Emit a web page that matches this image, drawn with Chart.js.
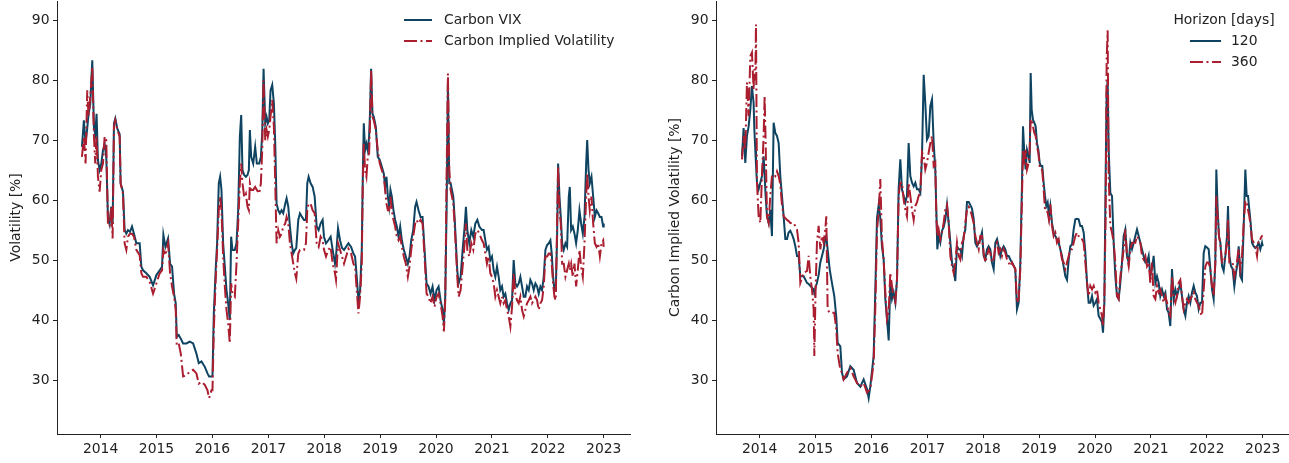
<!DOCTYPE html>
<html>
<head>
<meta charset="utf-8">
<script src="https://cdn.jsdelivr.net/npm/chart.js@4.4.0/dist/chart.umd.min.js"></script>
<style>
    body { margin: 0; background: #fff; }
    #wrap { position: relative; width: 1289px; height: 463px; }
    .panel { position: absolute; top: 0; }
</style>
</head>
<body>
<div id="wrap">
    <div class="panel" style="left:0"><canvas id="leftChart" width="640" height="463"></canvas></div>
    <div class="panel" style="left:648px"><canvas id="rightChart" width="641" height="463"></canvas></div>
</div>
<script>
const yearTicks = [2014, 2015, 2016, 2017, 2018, 2019, 2020, 2021, 2022, 2023];
const volTicks = [30, 40, 50, 60, 70, 80, 90];

// left panel: Carbon VIX vs Carbon Implied Volatility
const leftDates = [
    2013.666, 2013.701, 2013.731, 2013.761, 2013.785, 2013.815, 2013.851, 2013.881, 2013.904, 2013.928, 2013.952, 2013.982,
    2014.012, 2014.042, 2014.072, 2014.102, 2014.131, 2014.161, 2014.191, 2014.215, 2014.239, 2014.263, 2014.299, 2014.341, 2014.358, 2014.400, 2014.430, 2014.460, 2014.490, 2014.526, 2014.562, 2014.597, 2014.639, 2014.699, 2014.729, 2014.759, 2014.818, 2014.878, 2014.938, 2014.998,
    2015.057, 2015.099, 2015.123, 2015.159, 2015.207, 2015.243, 2015.278, 2015.314, 2015.344, 2015.362, 2015.398, 2015.434, 2015.476, 2015.535, 2015.595, 2015.655, 2015.714, 2015.756, 2015.804, 2015.864, 2015.912, 2015.941, 2015.983,
    2016.001, 2016.025, 2016.061, 2016.084, 2016.114, 2016.138, 2016.162, 2016.192, 2016.222, 2016.252, 2016.282, 2016.311, 2016.335, 2016.359, 2016.401, 2016.431, 2016.461, 2016.491, 2016.515, 2016.538, 2016.568, 2016.598, 2016.628, 2016.652, 2016.670, 2016.694, 2016.730, 2016.765, 2016.795, 2016.837, 2016.867, 2016.891, 2016.915, 2016.945, 2016.969, 2016.992,
    2017.016, 2017.040, 2017.070, 2017.100, 2017.124, 2017.148, 2017.178, 2017.207, 2017.237, 2017.267, 2017.303, 2017.327, 2017.357, 2017.387, 2017.417, 2017.446, 2017.476, 2017.500, 2017.536, 2017.566, 2017.602, 2017.638, 2017.673, 2017.697, 2017.721, 2017.757, 2017.793, 2017.829, 2017.865, 2017.900, 2017.936, 2017.972, 2017.996,
    2018.032, 2018.074, 2018.115, 2018.151, 2018.193, 2018.211, 2018.247, 2018.283, 2018.319, 2018.354, 2018.433, 2018.481, 2018.522, 2018.552, 2018.582, 2018.612, 2018.642, 2018.672, 2018.690, 2018.708, 2018.731, 2018.755, 2018.779, 2018.803, 2018.821, 2018.839, 2018.863, 2018.887, 2018.923, 2018.958, 2018.994,
    2019.030, 2019.066, 2019.090, 2019.114, 2019.138, 2019.162, 2019.185, 2019.209, 2019.239, 2019.269, 2019.299, 2019.329, 2019.359, 2019.389, 2019.424, 2019.460, 2019.496, 2019.526, 2019.556, 2019.592, 2019.627, 2019.651, 2019.687, 2019.723, 2019.759, 2019.795, 2019.831, 2019.866, 2019.902, 2019.938, 2019.974,
    2020.010, 2020.046, 2020.081, 2020.117, 2020.141, 2020.165, 2020.189, 2020.213, 2020.237, 2020.261, 2020.285, 2020.309, 2020.332, 2020.356, 2020.380, 2020.404, 2020.440, 2020.476, 2020.512, 2020.535, 2020.560, 2020.595, 2020.631, 2020.667, 2020.703, 2020.739, 2020.775, 2020.822, 2020.852, 2020.882, 2020.911, 2020.941, 2020.971,
    2021.001, 2021.031, 2021.061, 2021.091, 2021.121, 2021.150, 2021.180, 2021.210, 2021.240, 2021.270, 2021.300, 2021.330, 2021.360, 2021.389, 2021.419, 2021.449, 2021.479, 2021.509, 2021.539, 2021.569, 2021.598, 2021.628, 2021.658, 2021.688, 2021.718, 2021.748, 2021.778, 2021.808, 2021.837, 2021.867, 2021.897, 2021.927, 2021.957, 2021.987,
    2022.017, 2022.046, 2022.070, 2022.094, 2022.118, 2022.142, 2022.166, 2022.184, 2022.208, 2022.232, 2022.256, 2022.285, 2022.315, 2022.345, 2022.375, 2022.393, 2022.417, 2022.447, 2022.477, 2022.506, 2022.536, 2022.566, 2022.596, 2022.626, 2022.656, 2022.686, 2022.704, 2022.728, 2022.751, 2022.781, 2022.811, 2022.841, 2022.871, 2022.901, 2022.931, 2022.960, 2022.990, 2023.000
];
const carbonVix = [
    68.9, 73.3, 69.4, 72.0, 74.4, 76.0, 83.3, 72.0, 71.0, 74.4, 66.7, 65.0,
    66.0, 68.3, 69.4, 67.0, 57.2, 56.0, 58.9, 56.0, 72.8, 73.6, 71.9, 71.0, 62.8, 61.4, 55.0, 54.4, 55.0, 54.7, 55.6, 54.4, 52.8, 52.8, 48.9, 48.3, 47.8, 47.2, 45.8, 47.5,
    48.3, 48.9, 54.2, 52.2, 53.6, 49.4, 48.9, 44.4, 42.8, 37.2, 37.5, 36.9, 36.1, 36.1, 36.4, 36.1, 34.4, 32.8, 33.1, 32.2, 31.1, 30.6, 30.6,
    30.6, 41.1, 48.9, 52.8, 62.8, 63.9, 61.7, 52.8, 48.9, 45.0, 42.8, 40.0, 53.9, 51.7, 51.7, 52.8, 58.3, 70.6, 74.2, 65.0, 64.2, 63.9, 64.2, 65.0, 71.7, 67.2, 66.1, 68.9, 66.1, 66.1, 67.2, 71.1, 81.9, 72.8, 73.9, 72.8,
    73.3, 78.3, 79.2, 76.1, 69.4, 59.4, 58.3, 57.8, 58.3, 57.8, 59.4, 60.3, 58.9, 55.6, 52.8, 51.1, 51.7, 52.0, 56.7, 57.8, 57.2, 56.7, 56.7, 62.8, 63.9, 62.8, 62.2, 60.6, 55.6, 55.0, 56.1, 56.7, 53.9,
    52.8, 53.3, 53.9, 51.7, 49.4, 50.6, 55.3, 53.3, 52.0, 51.7, 52.8, 52.2, 51.1, 50.6, 47.2, 43.3, 45.0, 51.7, 63.9, 72.8, 68.3, 69.4, 68.3, 70.6, 75.0, 81.9, 74.4, 73.9, 72.2, 67.2, 66.7,
    65.6, 64.4, 62.2, 63.9, 60.6, 58.9, 61.7, 60.6, 58.3, 56.7, 55.6, 53.9, 55.6, 53.3, 51.7, 50.6, 49.4, 50.6, 53.3, 55.0, 58.9, 59.7, 58.3, 57.2, 57.2, 51.7, 46.1, 45.6, 44.4, 45.6, 43.3,
    45.0, 45.6, 43.3, 41.7, 39.4, 43.9, 58.3, 79.5, 62.8, 62.8, 61.7, 60.6, 57.2, 52.8, 48.3, 46.1, 47.2, 51.7, 55.6, 58.9, 55.0, 52.8, 55.0, 53.9, 56.1, 56.7, 55.6, 55.0, 55.0, 53.3, 51.7, 52.2, 50.0,
    50.6, 48.3, 47.2, 48.9, 47.2, 45.0, 45.6, 43.9, 44.4, 42.8, 41.7, 42.8, 43.3, 50.0, 46.1, 45.6, 46.1, 47.2, 45.6, 43.9, 43.9, 45.6, 45.0, 46.7, 46.1, 45.0, 46.1, 45.6, 44.4, 45.6, 45.0, 47.2, 51.7, 52.5,
    52.8, 53.3, 51.1, 47.2, 45.0, 45.0, 53.9, 66.1, 60.6, 57.2, 52.8, 51.7, 52.8, 52.2, 60.6, 62.2, 55.0, 55.6, 54.4, 52.8, 55.0, 58.3, 56.1, 54.4, 57.2, 66.1, 70.0, 65.0, 62.8, 63.9, 60.6, 57.2, 58.3, 57.8, 57.2, 57.2, 55.6, 56.1
];
const carbonIV = [
    67.2, 70.6, 66.1, 78.3, 73.9, 77.2, 82.2, 70.6, 66.1, 70.6, 64.0, 61.4,
    65.0, 66.1, 70.6, 70.0, 56.0, 55.6, 58.9, 53.6, 72.2, 73.3, 71.7, 70.6, 62.8, 61.1, 52.8, 51.7, 53.9, 54.4, 54.4, 53.9, 51.7, 50.8, 47.8, 47.2, 47.2, 46.4, 44.4, 46.1,
    47.8, 48.3, 51.7, 50.8, 52.8, 47.8, 45.6, 43.9, 41.7, 35.8, 36.1, 34.4, 30.6, 30.8, 31.4, 31.7, 31.1, 29.4, 29.7, 29.2, 28.3, 27.0, 28.3,
    28.3, 38.3, 47.2, 51.7, 58.3, 60.6, 58.3, 50.6, 45.6, 41.7, 39.4, 36.1, 46.1, 44.4, 43.9, 49.4, 56.1, 62.8, 66.1, 62.8, 60.6, 61.1, 58.9, 58.3, 62.8, 61.7, 61.7, 62.2, 61.7, 61.1, 62.8, 68.3, 80.0, 70.0, 71.7, 70.6,
    71.7, 73.9, 76.7, 72.2, 62.8, 52.8, 55.0, 53.9, 54.4, 55.6, 56.1, 57.2, 56.1, 52.8, 51.1, 49.4, 47.8, 46.9, 51.1, 51.7, 51.7, 51.7, 52.8, 58.3, 59.4, 59.4, 58.3, 57.8, 52.8, 52.2, 53.9, 53.3, 51.7,
    50.6, 51.7, 52.2, 49.4, 47.8, 46.7, 52.8, 51.7, 50.6, 49.4, 51.9, 51.1, 49.4, 48.9, 45.0, 41.1, 43.9, 49.4, 62.8, 69.4, 65.0, 63.9, 67.2, 67.8, 73.3, 81.7, 73.9, 73.3, 71.7, 68.3, 66.1,
    65.0, 63.9, 61.7, 59.4, 58.3, 58.3, 60.6, 58.3, 56.7, 55.6, 53.9, 53.3, 53.9, 52.2, 50.6, 49.4, 47.2, 48.9, 51.7, 53.9, 56.1, 56.7, 56.1, 56.7, 56.1, 50.6, 44.4, 43.9, 42.8, 43.9, 42.2,
    43.9, 44.4, 42.8, 40.6, 38.1, 43.3, 63.9, 81.1, 65.0, 61.7, 60.6, 59.4, 56.1, 51.7, 47.2, 43.9, 45.0, 48.9, 52.8, 56.1, 51.7, 50.6, 52.8, 51.7, 54.4, 55.0, 54.4, 53.3, 52.8, 51.1, 49.4, 50.6, 47.8,
    47.2, 46.1, 43.9, 45.0, 43.9, 42.8, 43.9, 42.8, 43.3, 41.7, 40.6, 38.9, 42.2, 47.8, 44.4, 43.3, 42.8, 43.9, 41.7, 40.6, 41.7, 42.8, 43.3, 43.9, 42.8, 43.3, 43.9, 43.3, 41.7, 42.8, 43.3, 45.6, 50.6, 50.6,
    51.1, 51.1, 49.4, 46.1, 43.9, 43.3, 56.1, 65.6, 58.3, 56.1, 49.4, 49.4, 47.2, 48.3, 49.4, 48.3, 49.4, 47.2, 49.4, 45.6, 48.3, 51.7, 48.9, 47.2, 52.8, 60.6, 64.4, 60.6, 58.3, 60.6, 56.1, 52.8, 52.2, 52.8, 50.6, 52.8, 53.3, 52.2
];

// right panel: implied volatility by horizon
const rightDates = [
    2013.685, 2013.714, 2013.744, 2013.774, 2013.804, 2013.834, 2013.863, 2013.893, 2013.905, 2013.923, 2013.935, 2013.953, 2013.983,
    2014.013, 2014.042, 2014.072, 2014.090, 2014.108, 2014.132, 2014.162, 2014.191, 2014.221, 2014.251, 2014.281, 2014.311, 2014.341, 2014.370, 2014.400, 2014.430, 2014.460, 2014.490, 2014.519, 2014.549, 2014.579, 2014.609, 2014.639, 2014.669, 2014.698, 2014.728, 2014.788, 2014.848, 2014.877, 2014.907, 2014.937, 2014.967, 2014.979,
    2015.003, 2015.026, 2015.056, 2015.086, 2015.116, 2015.146, 2015.175, 2015.193, 2015.217, 2015.253, 2015.294, 2015.336, 2015.372, 2015.396, 2015.444, 2015.474, 2015.503, 2015.563, 2015.623, 2015.682, 2015.742, 2015.802, 2015.861, 2015.921, 2015.951, 2015.980,
    2016.040, 2016.070, 2016.100, 2016.130, 2016.159, 2016.189, 2016.219, 2016.249, 2016.279, 2016.309, 2016.338, 2016.368, 2016.398, 2016.428, 2016.458, 2016.487, 2016.517, 2016.547, 2016.577, 2016.607, 2016.636, 2016.666, 2016.696, 2016.726, 2016.756, 2016.786, 2016.815, 2016.845, 2016.875, 2016.905, 2016.935, 2016.964, 2016.994,
    2017.024, 2017.054, 2017.084, 2017.114, 2017.143, 2017.161, 2017.179, 2017.203, 2017.233, 2017.263, 2017.292, 2017.322, 2017.352, 2017.382, 2017.412, 2017.442, 2017.471, 2017.501, 2017.531, 2017.561, 2017.590, 2017.620, 2017.650, 2017.680, 2017.710, 2017.740, 2017.769, 2017.799, 2017.829, 2017.859, 2017.889, 2017.919, 2017.948, 2017.978,
    2018.008, 2018.038, 2018.068, 2018.097, 2018.127, 2018.157, 2018.187, 2018.217, 2018.247, 2018.276, 2018.306, 2018.336, 2018.366, 2018.396, 2018.425, 2018.455, 2018.485, 2018.515, 2018.574, 2018.604, 2018.634, 2018.664, 2018.694, 2018.712, 2018.735, 2018.759, 2018.783, 2018.813, 2018.831, 2018.849, 2018.867, 2018.890, 2018.914, 2018.938, 2018.962, 2018.986,
    2019.010, 2019.034, 2019.057, 2019.081, 2019.105, 2019.129, 2019.153, 2019.177, 2019.201, 2019.230, 2019.260, 2019.290, 2019.320, 2019.350, 2019.379, 2019.409, 2019.439, 2019.469, 2019.499, 2019.529, 2019.558, 2019.588, 2019.618, 2019.648, 2019.678, 2019.707, 2019.737, 2019.767, 2019.797, 2019.827, 2019.857, 2019.886, 2019.916, 2019.946, 2019.976,
    2020.006, 2020.035, 2020.065, 2020.095, 2020.125, 2020.143, 2020.167, 2020.190, 2020.208, 2020.226, 2020.244, 2020.274, 2020.304, 2020.334, 2020.363, 2020.393, 2020.423, 2020.453, 2020.483, 2020.512, 2020.542, 2020.572, 2020.602, 2020.632, 2020.662, 2020.692, 2020.721, 2020.751, 2020.781, 2020.811, 2020.840, 2020.870, 2020.900, 2020.930, 2020.960, 2020.989,
    2021.019, 2021.049, 2021.079, 2021.109, 2021.139, 2021.168, 2021.198, 2021.228, 2021.258, 2021.288, 2021.317, 2021.347, 2021.377, 2021.407, 2021.437, 2021.466, 2021.496, 2021.526, 2021.556, 2021.586, 2021.616, 2021.645, 2021.675, 2021.705, 2021.735, 2021.765, 2021.794, 2021.824, 2021.854, 2021.884, 2021.914, 2021.944, 2021.973,
    2022.003, 2022.033, 2022.063, 2022.093, 2022.122, 2022.152, 2022.170, 2022.194, 2022.218, 2022.242, 2022.272, 2022.301, 2022.331, 2022.361, 2022.379, 2022.403, 2022.433, 2022.462, 2022.492, 2022.522, 2022.552, 2022.570, 2022.599, 2022.629, 2022.659, 2022.689, 2022.713, 2022.737, 2022.760, 2022.784, 2022.808, 2022.838, 2022.868, 2022.898, 2022.927, 2022.957, 2022.987, 2023.000
];
const horizon120 = [
    67.3, 72.0, 66.2, 70.7, 72.3, 75.1, 79.0, 76.2, 72.0, 68.4, 66.0, 62.9, 61.8,
    62.9, 64.0, 67.3, 64.0, 60.7, 57.3, 56.2, 58.4, 54.0, 72.9, 71.2, 70.7, 69.5, 64.0, 60.7, 57.3, 53.5, 53.5, 54.6, 54.9, 54.3, 53.5, 52.3, 50.7, 50.7, 47.3, 47.3, 46.2, 46.0, 45.7, 45.4, 45.1, 44.5,
    45.5, 46.2, 47.5, 49.6, 50.7, 51.8, 53.5, 54.0, 51.8, 48.5, 46.2, 44.0, 40.5, 36.2, 35.6, 31.2, 30.1, 30.6, 32.3, 31.7, 29.5, 28.9, 30.1, 28.5, 27.0, 28.9,
    34.0, 45.0, 57.0, 59.2, 57.0, 52.3, 50.1, 43.5, 40.2, 36.6, 46.2, 43.5, 44.6, 42.9, 46.8, 61.8, 66.8, 61.8, 60.7, 59.6, 60.7, 69.5, 64.0, 62.9, 62.3, 62.9, 61.8, 61.8, 61.2, 67.3, 80.9, 76.2, 70.1,
    70.7, 75.7, 76.8, 69.5, 65.1, 58.4, 51.8, 54.0, 52.9, 54.9, 55.5, 56.7, 59.2, 56.2, 52.9, 49.6, 48.5, 46.5, 52.3, 51.8, 51.8, 50.7, 54.0, 55.1, 59.7, 59.7, 59.2, 58.6, 56.9, 52.9, 52.3, 52.9, 53.5, 54.6,
    50.7, 50.1, 51.8, 52.3, 51.8, 49.6, 48.5, 52.9, 53.5, 52.3, 50.7, 51.8, 52.3, 51.8, 50.7, 50.7, 50.1, 49.6, 48.5, 41.8, 42.9, 49.6, 62.9, 72.3, 67.9, 65.1, 68.4, 67.3, 66.2, 81.2, 75.1, 73.4, 72.9, 72.3, 69.5, 68.4,
    66.2, 65.7, 65.7, 62.9, 60.7, 59.0, 59.6, 57.3, 59.0, 56.2, 54.6, 54.0, 53.5, 52.9, 51.8, 50.7, 48.9, 47.3, 46.7, 50.1, 52.3, 52.6, 55.1, 56.8, 56.9, 56.8, 55.7, 55.7, 54.6, 51.2, 46.2, 42.9, 42.9, 44.0, 42.4,
    42.9, 43.5, 40.7, 40.2, 39.6, 37.9, 42.9, 64.0, 77.9, 80.0, 68.4, 61.2, 60.7, 52.9, 47.3, 44.0, 43.5, 46.2, 49.6, 54.0, 55.1, 50.7, 49.6, 52.9, 51.8, 52.9, 54.0, 55.1, 54.0, 52.9, 51.8, 50.7, 49.6, 49.6, 50.7, 47.3,
    48.5, 50.7, 46.2, 47.3, 46.2, 44.0, 45.1, 44.0, 44.6, 41.8, 41.2, 39.0, 48.5, 43.5, 45.1, 44.0, 45.1, 46.2, 44.0, 41.8, 40.7, 42.9, 44.0, 42.9, 44.6, 45.7, 44.6, 44.0, 41.8, 42.9, 42.9, 51.2, 52.3,
    52.1, 51.8, 48.5, 45.1, 43.5, 49.6, 65.1, 58.4, 53.9, 52.9, 49.0, 48.2, 50.7, 54.0, 59.0, 50.7, 49.0, 48.5, 45.6, 47.9, 49.6, 52.3, 47.3, 46.7, 55.4, 65.1, 60.7, 60.7, 58.4, 56.2, 52.9, 52.3, 52.0, 52.3, 52.9, 51.8, 52.9, 52.3
];
const horizon360 = [
    66.8, 70.7, 68.4, 79.6, 74.0, 84.0, 84.6, 78.4, 81.8, 80.0, 89.3, 62.9, 57.3,
    56.2, 64.0, 70.7, 77.4, 69.5, 57.3, 56.2, 60.7, 64.0, 64.3, 64.0, 64.8, 64.0, 62.6, 59.2, 57.3, 57.0, 56.7, 56.5, 56.2, 56.2, 56.2, 55.6, 55.1, 52.9, 46.2, 47.9, 48.2, 50.7, 47.3, 45.1, 41.8, 34.0,
    45.7, 52.9, 55.7, 51.8, 54.0, 52.9, 55.1, 57.3, 41.8, 41.2, 41.2, 41.2, 38.4, 34.5, 31.7, 31.2, 30.1, 31.2, 32.0, 30.6, 29.5, 28.9, 29.5, 27.9, 28.2, 28.5,
    32.8, 42.0, 55.0, 58.0, 63.5, 53.4, 50.1, 44.6, 40.2, 41.5, 47.9, 45.7, 43.5, 42.9, 46.8, 60.7, 62.9, 62.9, 60.1, 58.4, 57.3, 62.9, 60.7, 58.4, 56.7, 59.0, 59.6, 60.7, 61.2, 68.0, 67.3, 65.1, 66.2,
    67.9, 69.5, 70.7, 65.7, 66.2, 57.3, 54.0, 55.1, 53.5, 54.6, 56.2, 58.4, 59.2, 56.2, 50.7, 49.0, 47.9, 49.6, 52.9, 50.7, 50.1, 52.9, 53.5, 56.2, 58.4, 58.9, 58.4, 57.3, 56.2, 54.0, 52.9, 51.8, 54.0, 54.0,
    51.2, 49.6, 50.7, 51.8, 51.2, 49.6, 50.1, 52.3, 52.9, 51.2, 51.8, 50.7, 51.8, 51.2, 50.1, 49.6, 49.0, 49.6, 48.5, 42.9, 43.5, 48.5, 60.7, 68.4, 65.7, 68.4, 65.1, 66.2, 68.4, 73.5, 73.4, 72.3, 71.2, 70.7, 68.9, 67.9,
    65.7, 65.7, 64.8, 61.8, 58.4, 58.4, 57.9, 56.7, 59.3, 55.7, 54.0, 54.6, 52.9, 53.5, 51.8, 50.1, 49.6, 48.5, 49.6, 50.7, 51.8, 51.8, 52.9, 54.0, 54.6, 54.0, 54.0, 53.5, 52.9, 49.6, 46.2, 44.0, 45.7, 45.1, 45.7,
    44.6, 45.1, 42.9, 41.8, 40.7, 39.0, 43.5, 57.3, 83.4, 88.3, 64.0, 55.7, 54.6, 52.9, 49.6, 44.0, 43.5, 47.3, 49.6, 51.8, 55.1, 50.7, 49.0, 51.8, 52.9, 52.9, 52.9, 54.0, 53.5, 52.9, 50.7, 50.1, 50.7, 49.0, 49.6, 46.2,
    49.6, 44.0, 43.5, 45.7, 44.6, 45.1, 44.0, 42.9, 44.0, 42.9, 41.2, 40.7, 47.3, 44.0, 42.9, 44.0, 46.2, 46.7, 44.0, 41.8, 42.9, 43.5, 42.9, 43.5, 44.0, 44.6, 43.5, 42.9, 42.4, 41.2, 40.7, 45.1, 48.9,
    49.6, 49.6, 48.5, 45.7, 44.0, 49.6, 60.7, 57.3, 53.9, 52.9, 49.6, 49.6, 50.7, 52.9, 56.8, 49.6, 49.6, 49.6, 47.3, 48.5, 50.7, 51.8, 48.5, 50.7, 56.0, 59.8, 59.8, 58.4, 57.3, 55.7, 53.5, 52.9, 52.3, 50.7, 53.5, 53.5, 54.0, 54.0
];

const blue = "#0e4461";
const red = "#ab1e30";
const ink = "#222222";
const dashDot = [13, 3.5, 2, 3.5];
const fontFamily = "'DejaVu Sans', sans-serif";

Chart.defaults.font.family = fontFamily;
Chart.defaults.font.size = 13.9;
Chart.defaults.color = ink;

function points(xs, ys) {
    return xs.map((x, i) => ({ x: x, y: ys[i] }));
}

// draws the matplotlib-like legend inside the plot area
const insideLegend = {
    id: "insideLegend",
    afterDraw(chart, args, opts) {
        const ctx = chart.ctx;
        const area = chart.chartArea;
        ctx.save();
        ctx.font = "13.9px " + fontFamily;
        ctx.fillStyle = ink;
        ctx.textBaseline = "middle";
        let y = area.top + opts.top;
        if (opts.title) {
            ctx.textAlign = "center";
            ctx.fillText(opts.title, area.right - opts.titleX, y);
            y += opts.step;
        }
        ctx.textAlign = "left";
        opts.items.forEach(item => {
            ctx.beginPath();
            ctx.strokeStyle = item.color;
            ctx.lineWidth = 2;
            ctx.setLineDash(item.dash);
            ctx.moveTo(area.right - opts.lineFrom, y);
            ctx.lineTo(area.right - opts.lineTo, y);
            ctx.stroke();
            ctx.fillText(item.label, area.right - opts.textX, y);
            y += opts.step;
        });
        ctx.restore();
    }
};

function makeChart(id, dates, first, second, names, yTitle, axisWidth, titlePad, rightPad, legend) {
    return new Chart(id, {
        type: "line",
        data: {
            datasets: [{
                label: names[0],
                data: points(dates, first),
                borderColor: blue,
                borderWidth: 2,
                pointRadius: 0,
                order: 1
            }, {
                label: names[1],
                data: points(dates, second),
                borderColor: red,
                borderWidth: 2,
                borderDash: dashDot,
                pointRadius: 0,
                order: 0
            }]
        },
        options: {
            responsive: false,
            animation: false,
            layout: { padding: { top: 1, right: rightPad, left: 0, bottom: 0 } },
            plugins: {
                legend: { display: false },
                tooltip: { enabled: false },
                insideLegend: legend
            },
            scales: {
                x: {
                    type: "linear",
                    min: 2013.22,
                    max: 2023.47,
                    afterBuildTicks: s => { s.ticks = yearTicks.map(v => ({ value: v })); },
                    afterFit: s => {
                        s.height = 29;
                        s.paddingLeft = 0;
                        s.paddingRight = 0;
                    },
                    ticks: { padding: 3, callback: v => String(v), maxRotation: 0, autoSkip: false },
                    grid: { display: true, drawOnChartArea: false, drawTicks: true, tickLength: 4, tickColor: ink, lineWidth: 1 },
                    border: { display: true, color: ink, width: 1 }
                },
                y: {
                    min: 21.0,
                    max: 93.2,
                    afterBuildTicks: s => { s.ticks = volTicks.map(v => ({ value: v })); },
                    afterFit: s => {
                        s.width = axisWidth;
                        s.paddingTop = 0;
                        s.paddingBottom = 0;
                    },
                    ticks: { padding: 3.5, callback: v => String(v) },
                    grid: { display: true, drawOnChartArea: false, drawTicks: true, tickLength: 4, tickColor: ink, lineWidth: 1 },
                    border: { display: true, color: ink, width: 1 },
                    title: { display: true, text: yTitle, padding: { top: titlePad, bottom: 0 }, font: { size: 13.9 } }
                }
            }
        },
        plugins: [insideLegend]
    });
}

makeChart("leftChart", leftDates, carbonVix, carbonIV,
    ["Carbon VIX", "Carbon Implied Volatility"], "Volatility [%]", 57, 8, 10, {
        top: 19, step: 21, lineFrom: 226, lineTo: 198, textX: 186,
        items: [
            { label: "Carbon VIX", color: blue, dash: [] },
            { label: "Carbon Implied Volatility", color: red, dash: dashDot }
        ]
    });

makeChart("rightChart", rightDates, horizon120, horizon360,
    ["120", "360"], "Carbon Implied Volatility [%]", 68, 19, 0, {
        top: 19, step: 21, title: "Horizon [days]", titleX: 65, lineFrom: 99, lineTo: 68, textX: 58,
        items: [
            { label: "120", color: blue, dash: [] },
            { label: "360", color: red, dash: dashDot }
        ]
    });
</script>
</body>
</html>
